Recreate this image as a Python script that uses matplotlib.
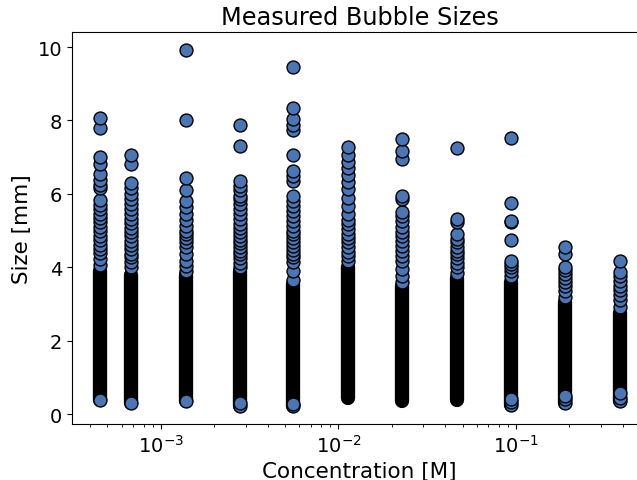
import numpy as np
import matplotlib
matplotlib.use('Agg')
import matplotlib.pyplot as plt

# concentrations [M], one per column of measurements
conc = [4.53e-4, 6.78e-4, 1.38e-3, 2.79e-3, 5.54e-3, 1.13e-2,
        2.28e-2, 4.66e-2, 9.37e-2, 1.89e-1, 3.86e-1]

# densely packed range of bubble sizes (mm) in each column
dense_lo = [0.38, 0.30, 0.37, 0.23, 0.21, 0.45, 0.35, 0.39, 0.25, 0.30, 0.37]
dense_hi = [3.90, 3.80, 3.80, 3.90, 3.55, 4.00, 3.50, 3.70, 3.60, 3.05, 2.75]

# individually visible bubble sizes (mm) per column
sizes = [
    [8.07, 7.79, 7.00, 6.82, 6.55, 6.38, 6.25, 6.15, 5.82, 5.70, 5.58, 5.46,
     5.33, 5.22, 5.10, 4.98, 4.86, 4.75, 4.62, 4.50, 4.38, 4.22, 4.05, 0.38],
    [7.07, 6.82, 6.29, 6.15, 6.00, 5.86, 5.72, 5.59, 5.45, 5.31, 5.20, 5.08,
     4.96, 4.85, 4.72, 4.60, 4.50, 4.36, 4.28, 4.14, 4.00, 0.30],
    [9.93, 8.01, 6.43, 6.10, 5.81, 5.63, 5.45, 5.29, 5.13, 5.00, 4.90, 4.80,
     4.70, 4.55, 4.35, 4.17, 4.03, 3.90, 0.37],
    [7.88, 7.30, 6.36, 6.22, 6.10, 5.95, 5.86, 5.72, 5.59, 5.45, 5.31, 5.18,
     5.06, 4.95, 4.85, 4.75, 4.65, 4.55, 4.45, 4.35, 4.25, 4.12, 4.02, 0.23, 0.30],
    [9.45, 8.33, 8.05, 7.88, 7.75, 7.07, 6.63, 6.49, 6.36, 5.95, 5.81, 5.68,
     5.54, 5.40, 5.27, 5.13, 5.00, 4.90, 4.80, 4.70, 4.58, 4.46, 4.36, 4.28,
     4.14, 3.90, 3.65, 0.21, 0.28],
    [7.27, 7.06, 6.86, 6.70, 6.52, 6.31, 6.13, 5.90, 5.68, 5.45, 5.30, 5.18,
     5.05, 4.92, 4.80, 4.68, 4.55, 4.42, 4.30, 4.17],
    [7.49, 7.17, 6.95, 5.95, 5.86, 5.50, 5.40, 5.25, 5.10, 4.96, 4.85, 4.72,
     4.58, 4.45, 4.30, 4.17, 3.95, 3.76, 3.60],
    [7.25, 5.31, 5.22, 4.90, 4.78, 4.68, 4.55, 4.45, 4.35, 4.25, 4.12, 4.00, 3.85],
    [7.53, 5.75, 5.27, 5.22, 4.75, 4.18, 4.10, 4.02, 3.90, 3.75, 0.25, 0.33, 0.40],
    [4.54, 4.36, 4.00, 3.92, 3.82, 3.72, 3.60, 3.48, 3.35, 3.18, 0.30, 0.40, 0.50],
    [4.18, 3.86, 3.75, 3.62, 3.50, 3.38, 3.25, 3.12, 2.91, 0.37, 0.45, 0.58],
]

face = '#4a76b6'
diam_pt = 10.3   # marker outer diameter in points
edge_lw = 1.0

fig = plt.figure(figsize=(6.37, 4.81), dpi=100)
ax = fig.add_axes([72 / 637, 56 / 481, 575 / 637, 392 / 481])

# dense part: overlapping outlines merge into a solid black column
for c, lo, hi in zip(conc, dense_lo, dense_hi):
    ax.plot([c, c], [lo, hi], color='black', lw=diam_pt,
            solid_capstyle='round', zorder=2)

xs, ys = [], []
for c, vals in zip(conc, sizes):
    for v in sorted(vals):
        xs.append(c)
        ys.append(v)
ax.scatter(xs, ys, s=(diam_pt - edge_lw) ** 2, c=face, edgecolors='black',
           linewidths=edge_lw, zorder=3)

ax.set_xscale('log')
ax.set_xlim(3.155e-4, 0.547)
ax.set_ylim(-0.27, 10.41)
ax.set_yticks([0, 2, 4, 6, 8, 10])

ax.set_title('Measured Bubble Sizes', fontsize=17.3)
ax.set_xlabel('Concentration [M]', fontsize=15.5)
ax.set_ylabel('Size [mm]', fontsize=15.5)
ax.tick_params(axis='both', which='major', labelsize=14)

fig.savefig('out.png', dpi=100)
